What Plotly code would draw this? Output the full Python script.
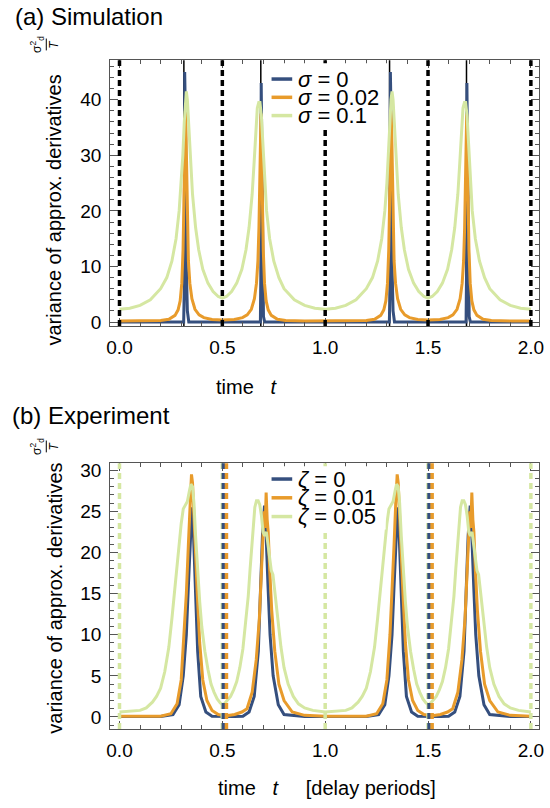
import plotly.graph_objects as go

W, H = 550, 808

# ---------------- (a) Simulation ----------------
sim_t_s0 = [0.0, 0.312, 0.315, 0.317, 0.321, 0.325, 0.330, 0.337,
            0.680, 0.685, 0.687, 0.689, 0.692, 0.696, 0.700, 0.706,
            1.0, 1.312, 1.315, 1.317, 1.321, 1.325, 1.330, 1.337,
            1.680, 1.685, 1.687, 1.689, 1.692, 1.696, 1.700, 1.706, 2.0]
sim_s0 = [0, 0, 6, 45, 36, 10, 2, 0,
          0, 0, 8, 43, 31, 6, 1, 0,
          0, 0, 6, 45, 36, 10, 2, 0,
          0, 0, 8, 43, 31, 6, 1, 0, 0]

sim_t_s002 = [0.0, 0.1, 0.2, 0.24, 0.27, 0.285, 0.295, 0.303, 0.309, 0.313, 0.317, 0.320,
              0.323, 0.326, 0.330, 0.335, 0.342, 0.352, 0.367, 0.387, 0.41, 0.45, 0.5,
              0.558, 0.598, 0.621, 0.641, 0.656, 0.666, 0.673, 0.678, 0.682, 0.685, 0.688,
              0.691, 0.695, 0.699, 0.705, 0.713, 0.723, 0.738, 0.768, 0.808, 0.9,
              1.0, 1.1, 1.2, 1.24, 1.27, 1.285, 1.295, 1.303, 1.309, 1.313, 1.317, 1.320,
              1.323, 1.326, 1.330, 1.335, 1.342, 1.352, 1.367, 1.387, 1.41, 1.45, 1.5,
              1.558, 1.598, 1.621, 1.641, 1.656, 1.666, 1.673, 1.678, 1.682, 1.685, 1.688,
              1.691, 1.695, 1.699, 1.705, 1.713, 1.723, 1.738, 1.768, 1.808, 1.9, 2.0]
sim_s002 = [0.2, 0.2, 0.3, 0.5, 1.2, 2.2, 3.8, 7, 13, 21, 31, 38,
            35, 27, 17, 11, 7, 4.2, 2.3, 1.3, 0.8, 0.45, 0.35,
            0.45, 0.8, 1.3, 2.3, 4.2, 7, 11, 17, 27, 35, 37.5,
            31, 21, 13, 7, 3.8, 2.2, 1.2, 0.5, 0.3, 0.2,
            0.2, 0.2, 0.3, 0.5, 1.2, 2.2, 3.8, 7, 13, 21, 31, 38,
            35, 27, 17, 11, 7, 4.2, 2.3, 1.3, 0.8, 0.45, 0.35,
            0.45, 0.8, 1.3, 2.3, 4.2, 7, 11, 17, 27, 35, 37.5,
            31, 21, 13, 7, 3.8, 2.2, 1.2, 0.5, 0.3, 0.2, 0.2]

sim_t_s01 = [0.0, 0.05, 0.1, 0.15, 0.2, 0.23, 0.255, 0.275, 0.29, 0.30, 0.308, 0.315,
             0.32, 0.325, 0.33, 0.337, 0.345, 0.355, 0.37, 0.385, 0.405, 0.43, 0.455, 0.48,
             0.5, 0.52, 0.545, 0.57, 0.595, 0.615, 0.63, 0.645, 0.655, 0.663, 0.67, 0.677,
             0.683, 0.69, 0.697, 0.705, 0.715, 0.73, 0.75, 0.775, 0.8, 0.85, 0.9, 0.95,
             1.0, 1.05, 1.1, 1.15, 1.2, 1.23, 1.255, 1.275, 1.29, 1.30, 1.308, 1.315,
             1.32, 1.325, 1.33, 1.337, 1.345, 1.355, 1.37, 1.385, 1.405, 1.43, 1.455, 1.48,
             1.5, 1.52, 1.545, 1.57, 1.595, 1.615, 1.63, 1.645, 1.655, 1.663, 1.67, 1.677,
             1.683, 1.69, 1.697, 1.705, 1.715, 1.73, 1.75, 1.775, 1.8, 1.85, 1.9, 1.95, 2.0]
sim_s01 = [2.3, 2.5, 3.0, 4.0, 6.0, 8.0, 11, 15, 20, 25, 30, 36,
           40, 41.5, 40, 35, 29, 23, 17, 13, 9.5, 7, 5.5, 4.6,
           4.3, 4.6, 5.5, 7, 9.5, 13, 17, 23, 29, 35, 38.5, 39.5,
           39.5, 37, 32, 26, 20, 15, 11, 8, 6, 4, 3, 2.5,
           2.3, 2.5, 3.0, 4.0, 6.0, 8.0, 11, 15, 20, 25, 30, 36,
           40, 41.5, 40, 35, 29, 23, 17, 13, 9.5, 7, 5.5, 4.6,
           4.3, 4.6, 5.5, 7, 9.5, 13, 17, 23, 29, 35, 38.5, 39.5,
           39.5, 37, 32, 26, 20, 15, 11, 8, 6, 4, 3, 2.5, 2.3]

sim_dashed = [0.0, 0.5, 1.0, 1.5, 2.0]
sim_peaks = [0.313, 0.687, 1.313, 1.687]

# ---------------- (b) Experiment ----------------
exp_t_z0 = [0.0, 0.2, 0.26, 0.29, 0.31, 0.325, 0.335, 0.345, 0.352, 0.36, 0.37, 0.38,
            0.395, 0.42, 0.45, 0.5, 0.56, 0.6, 0.63, 0.655, 0.675, 0.685, 0.695, 0.705,
            0.713, 0.722, 0.732, 0.747, 0.772, 0.8, 0.9,
            1.0, 1.2, 1.26, 1.29, 1.31, 1.325, 1.335, 1.345, 1.352, 1.36, 1.37, 1.38,
            1.395, 1.42, 1.45, 1.5, 1.56, 1.6, 1.63, 1.655, 1.675, 1.685, 1.695, 1.705,
            1.713, 1.722, 1.732, 1.747, 1.772, 1.8, 1.9, 2.0]
exp_z0 = [0.05, 0.05, 0.3, 1.5, 5, 10, 16, 22, 25.5, 22, 15, 8,
          2.5, 0.6, 0.1, 0.05, 0.05, 0.1, 0.6, 2.5, 8, 15, 22, 25.7,
          22, 16, 10, 5, 1.5, 0.3, 0.05,
          0.05, 0.05, 0.3, 1.5, 5, 10, 16, 22, 25.5, 22, 15, 8,
          2.5, 0.6, 0.1, 0.05, 0.05, 0.1, 0.6, 2.5, 8, 15, 22, 25.7,
          22, 16, 10, 5, 1.5, 0.3, 0.05, 0.05]

exp_t_z001 = [0.0, 0.2, 0.25, 0.28, 0.3, 0.315, 0.325, 0.335, 0.343, 0.35, 0.355, 0.36,
              0.368, 0.378, 0.39, 0.405, 0.425, 0.45, 0.48, 0.52, 0.56, 0.595, 0.62, 0.645,
              0.665, 0.68, 0.69, 0.697, 0.703, 0.708, 0.713, 0.718, 0.723, 0.73, 0.74, 0.755,
              0.775, 0.8, 0.84, 0.9,
              1.0, 1.2, 1.25, 1.28, 1.3, 1.315, 1.325, 1.335, 1.343, 1.35, 1.355, 1.36,
              1.368, 1.378, 1.39, 1.405, 1.425, 1.45, 1.48, 1.52, 1.56, 1.595, 1.62, 1.645,
              1.665, 1.68, 1.69, 1.697, 1.703, 1.708, 1.713, 1.718, 1.723, 1.73, 1.74, 1.755,
              1.775, 1.8, 1.84, 1.9, 2.0]
exp_z001 = [0.1, 0.1, 0.4, 1.6, 4.5, 10, 15, 21, 26, 29.5, 28.5, 26,
            21, 15, 9, 4.5, 2, 0.8, 0.3, 0.15, 0.3, 0.6, 1.0, 3,
            7, 12, 17, 22, 25, 23, 27.3, 24, 22.5, 18, 13, 8,
            4, 2, 0.6, 0.2,
            0.1, 0.1, 0.4, 1.6, 4.5, 10, 15, 21, 26, 29.5, 28.5, 26,
            21, 15, 9, 4.5, 2, 0.8, 0.3, 0.15, 0.3, 0.6, 1.0, 3,
            7, 12, 17, 22, 25, 23, 27.3, 24, 22.5, 18, 13, 8,
            4, 2, 0.6, 0.2, 0.1]

exp_t_z005 = [0.0, 0.05, 0.1, 0.13, 0.16, 0.18, 0.2, 0.22, 0.24, 0.255, 0.27, 0.285,
              0.3, 0.31, 0.32, 0.33, 0.34, 0.347, 0.355, 0.362, 0.37, 0.38, 0.39, 0.4,
              0.415, 0.43, 0.445, 0.46, 0.475, 0.49, 0.5, 0.51, 0.525, 0.54, 0.555, 0.57,
              0.585, 0.6, 0.613, 0.626, 0.635, 0.642, 0.65, 0.658, 0.666, 0.674, 0.682, 0.69,
              0.698, 0.706, 0.714, 0.722, 0.73, 0.738, 0.746, 0.756, 0.77, 0.785, 0.8, 0.82,
              0.845, 0.87, 0.9, 0.94,
              1.0, 1.05, 1.1, 1.13, 1.16, 1.18, 1.2, 1.22, 1.24, 1.255, 1.27, 1.285,
              1.3, 1.31, 1.32, 1.33, 1.34, 1.347, 1.355, 1.362, 1.37, 1.38, 1.39, 1.4,
              1.415, 1.43, 1.445, 1.46, 1.475, 1.49, 1.5, 1.51, 1.525, 1.54, 1.555, 1.57,
              1.585, 1.6, 1.613, 1.626, 1.635, 1.642, 1.65, 1.658, 1.666, 1.674, 1.682, 1.69,
              1.698, 1.706, 1.714, 1.722, 1.73, 1.738, 1.746, 1.756, 1.77, 1.785, 1.8, 1.82,
              1.845, 1.87, 1.9, 1.94, 2.0]
exp_z005 = [0.6, 0.7, 0.8, 1.1, 1.8, 2.5, 3.5, 5.5, 8.5, 12, 16, 20,
            23.5, 25.3, 25.8, 26.2, 27.5, 28.3, 28, 26, 22, 17.5, 14, 11,
            8, 5.8, 4, 3, 2.2, 1.7, 1.5, 1.6, 2, 2.5, 3.3, 4.3,
            6, 8.3, 11.5, 14.7, 18, 20.7, 23.5, 25.5, 26.3, 26.3, 25.8, 24.5,
            22.5, 22, 22.5, 21, 19, 17.8, 17.3, 15, 11.5, 8.5, 6, 4,
            2.5, 1.6, 1.1, 0.8,
            0.6, 0.7, 0.8, 1.1, 1.8, 2.5, 3.5, 5.5, 8.5, 12, 16, 20,
            23.5, 25.3, 25.8, 26.2, 27.5, 28.3, 28, 26, 22, 17.5, 14, 11,
            8, 5.8, 4, 3, 2.2, 1.7, 1.5, 1.6, 2, 2.5, 3.3, 4.3,
            6, 8.3, 11.5, 14.7, 18, 20.7, 23.5, 25.5, 26.3, 26.3, 25.8, 24.5,
            22.5, 22, 22.5, 21, 19, 17.8, 17.3, 15, 11.5, 8.5, 6, 4,
            2.5, 1.6, 1.1, 0.8, 0.6]

exp_dashed_z005 = [0.0, 0.5, 1.0, 1.5, 2.0]
exp_dashed_z0 = [0.505, 1.505]
exp_dashed_z001 = [0.52, 1.52]

BLUE = "#354f7e"
ORANGE = "#e89b2b"
GREEN = "#d5e7a2"
FONT = "Liberation Sans, Arial, sans-serif"


def px(x):
    return x / W


def py(y):
    return 1 - y / H


fig = go.Figure()

for t, v, c in [(sim_t_s0, sim_s0, BLUE), (sim_t_s002, sim_s002, ORANGE), (sim_t_s01, sim_s01, GREEN)]:
    fig.add_trace(go.Scatter(x=t, y=v, mode="lines", line=dict(color=c, width=3),
                             xaxis="x", yaxis="y", showlegend=False))
for t, v, c in [(exp_t_z0, exp_z0, BLUE), (exp_t_z001, exp_z001, ORANGE), (exp_t_z005, exp_z005, GREEN)]:
    fig.add_trace(go.Scatter(x=t, y=v, mode="lines", line=dict(color=c, width=3),
                             xaxis="x2", yaxis="y2", showlegend=False))

shapes = []
for t in sim_peaks:
    shapes.append(dict(type="line", xref="x", yref="y domain", x0=t, x1=t, y0=0, y1=1,
                       line=dict(color="black", width=1.5), layer="below"))
for t in sim_dashed:
    shapes.append(dict(type="line", xref="x", yref="y domain", x0=t, x1=t, y0=0, y1=1,
                       line=dict(color="black", width=3.5, dash="6px,4px"), layer="above"))
for ts, c in [(exp_dashed_z005, GREEN), (exp_dashed_z0, BLUE), (exp_dashed_z001, ORANGE)]:
    for t in ts:
        shapes.append(dict(type="line", xref="x2", yref="y2 domain", x0=t, x1=t, y0=0, y1=1,
                           line=dict(color=c, width=3.5, dash="6px,4px"), layer="above"))

# legend boxes
for (x0, y0, x1, y1) in [(269, 61, 390, 128), (271, 469, 388, 533)]:
    shapes.append(dict(type="rect", xref="paper", yref="paper", x0=px(x0), x1=px(x1),
                       y0=py(y1), y1=py(y0), fillcolor="white", line=dict(width=0), layer="above"))

annotations = []
legend_rows = [
    ([77, 95.5, 114], ["<i>σ</i> = 0", "<i>σ</i> = 0.02", "<i>σ</i> = 0.1"]),
    ([482, 501, 520], ["<i>ζ</i> = 0", "<i>ζ</i> = 0.01", "<i>ζ</i> = 0.05"]),
]
for ys, labels in legend_rows:
    for y, lab, c in zip(ys, labels, [BLUE, ORANGE, GREEN]):
        shapes.append(dict(type="line", xref="paper", yref="paper", x0=px(272), x1=px(293),
                           y0=py(y), y1=py(y), line=dict(color=c, width=3.5), layer="above"))
        annotations.append(dict(text=lab, xref="paper", yref="paper", x=px(297), y=py(y),
                                xanchor="left", yanchor="middle", showarrow=False,
                                font=dict(size=22, color="black", family=FONT)))

# panel titles
annotations.append(dict(text="(a) Simulation", xref="paper", yref="paper", x=px(9), y=py(14),
                        xanchor="left", yanchor="middle", showarrow=False,
                        font=dict(size=24, color="black", family=FONT)))
annotations.append(dict(text="(b) Experiment", xref="paper", yref="paper", x=px(6), y=py(418),
                        xanchor="left", yanchor="middle", showarrow=False,
                        font=dict(size=24, color="black", family=FONT)))

# y labels and sigma_d^2 / T fractions
for yc, yf in [(210, 42), (603, 449)]:
    annotations.append(dict(text="variance of approx. derivatives", xref="paper", yref="paper",
                            x=px(51), y=py(yc), textangle=-90, xanchor="center", yanchor="middle",
                            showarrow=False, font=dict(size=20, color="black", family=FONT)))
    annotations.append(dict(text="σ<sup>2</sup><sub>d</sub>", xref="paper", yref="paper",
                            x=px(34), y=py(yf), textangle=-90, xanchor="center", yanchor="middle",
                            showarrow=False, font=dict(size=12, color="black", family=FONT)))
    shapes.append(dict(type="line", xref="paper", yref="paper", x0=px(43), x1=px(43),
                       y0=py(yf + 6), y1=py(yf - 6), line=dict(color="black", width=1)))
    annotations.append(dict(text="<i>T</i>", xref="paper", yref="paper",
                            x=px(51), y=py(yf), textangle=-90, xanchor="center", yanchor="middle",
                            showarrow=False, font=dict(size=12, color="black", family=FONT)))

# x labels
NB = "\u00a0"
annotations.append(dict(text="time" + NB * 3 + "<i>t</i>", xref="paper", yref="paper",
                        x=px(280), y=py(389), xanchor="right", yanchor="middle", showarrow=False,
                        font=dict(size=20, color="black", family=FONT)))
annotations.append(dict(text="time" + NB * 3 + "<i>t</i>" + NB * 5 + "[delay periods]",
                        xref="paper", yref="paper", x=px(441), y=py(795),
                        xanchor="right", yanchor="middle", showarrow=False,
                        font=dict(size=20, color="black", family=FONT)))

axis_common = dict(ticks="inside", ticklen=8, tickcolor="#555", tickwidth=1,
                   showline=True, linecolor="#555", linewidth=1, mirror="allticks",
                   showgrid=False, zeroline=False,
                   tickfont=dict(size=19, color="black", family=FONT))

xdom = [px(108), px(544)]
xrange_ = [-0.045, 2.04]
fig.update_layout(
    width=W, height=H,
    margin=dict(l=0, r=0, t=0, b=0),
    paper_bgcolor="white", plot_bgcolor="white",
    showlegend=False,
    xaxis=dict(domain=xdom, anchor="y", range=xrange_, tick0=0, dtick=0.5,
               tickformat=".1f", ticklabelstandoff=4,
               minor=dict(dtick=0.1, ticks="inside", ticklen=4, tickcolor="#555"), **axis_common),
    yaxis=dict(domain=[py(327), py(58)], anchor="x", range=[-0.7, 47.1], tick0=0, dtick=10,
               ticklabelstandoff=4,
               minor=dict(dtick=2, ticks="inside", ticklen=4, tickcolor="#555"), **axis_common),
    xaxis2=dict(domain=xdom, anchor="y2", range=xrange_, tick0=0, dtick=0.5,
                tickformat=".1f", ticklabelstandoff=4,
                minor=dict(dtick=0.1, ticks="inside", ticklen=4, tickcolor="#555"), **axis_common),
    yaxis2=dict(domain=[py(735), py(466)], anchor="x2", range=[-1.45, 30.85], tick0=0, dtick=5,
                ticklabelstandoff=4,
                minor=dict(dtick=1, ticks="inside", ticklen=4, tickcolor="#555"), **axis_common),
    shapes=shapes,
    annotations=annotations,
)

# the page body has a default 8px margin; drop it so the figure sits at the window origin
fig.write_html("out.html", config={"displayModeBar": False},
               post_script="document.body.style.margin='0px';")
